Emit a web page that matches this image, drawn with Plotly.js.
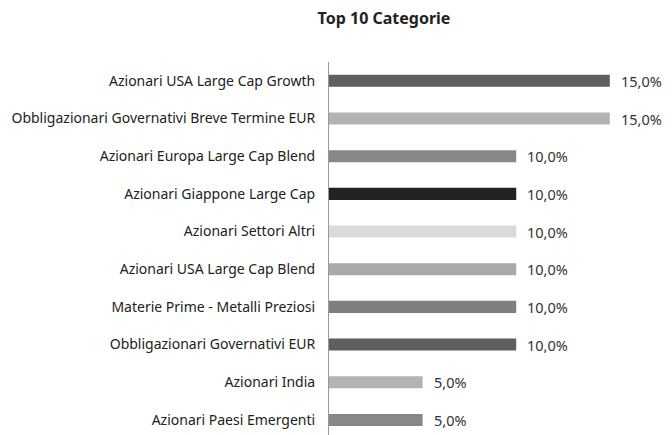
<!DOCTYPE html>
<html><head><meta charset="utf-8">
<script src="https://cdn.plot.ly/plotly-3.0.1.min.js"></script>
<style>html,body{margin:0;padding:0;background:#fff}#chart{width:672px;height:435px}</style>
</head><body><div id="chart"></div>
<script>
const categories = [
  "Azionari USA Large Cap Growth",
  "Obbligazionari Governativi Breve Termine EUR",
  "Azionari Europa Large Cap Blend",
  "Azionari Giappone Large Cap",
  "Azionari Settori Altri",
  "Azionari USA Large Cap Blend",
  "Materie Prime - Metalli Preziosi",
  "Obbligazionari Governativi EUR",
  "Azionari India",
  "Azionari Paesi Emergenti"
];
const values = [15.0, 15.0, 10.0, 10.0, 10.0, 10.0, 10.0, 10.0, 5.0, 5.0];
const labels = values.map(v => v.toFixed(1).replace('.', ',') + '%');
const colors = ["#5f5f5f","#b3b3b3","#878787","#222222","#dadada","#a9a9a9","#7f7f7f","#5f5f5f","#b3b3b3","#878787"];

const font = "'Noto Sans', sans-serif";
const annotations = categories.map((c, i) => ({
  x: values[i], y: c, xref: 'x', yref: 'y', text: labels[i], showarrow: false,
  xanchor: 'left', yanchor: 'middle', xshift: 9,
  font: {family: font, size: 14.5, color: '#333'}
}));
Plotly.newPlot('chart', [{
  type: 'bar', orientation: 'h',
  x: values, y: categories,
  marker: {color: colors},
  width: 0.32,
  hoverinfo: 'none'
}], {
  width: 672, height: 435,
  margin: {l: 329, r: 6, t: 62, b: 0},
  paper_bgcolor: '#fff', plot_bgcolor: '#fff',
  showlegend: false,
  annotations: annotations,
  title: {text: '<b>Top 10 Categorie</b>', x: 384/672, xanchor: 'center', xref: 'container',
          y: 1 - 18/435, yanchor: 'middle', yref: 'container',
          font: {family: font, size: 16, color: '#222'}},
  xaxis: {range: [0, 18], visible: false, fixedrange: true},
  yaxis: {type: 'category', range: [9.4, -0.5], showline: true, linecolor: '#9a9a9a', linewidth: 1,
          showgrid: false, zeroline: false, ticks: '', ticklabelstandoff: 10,
          tickfont: {family: font, size: 14, color: '#222'}}
}, {staticPlot: true});
</script></body></html>
